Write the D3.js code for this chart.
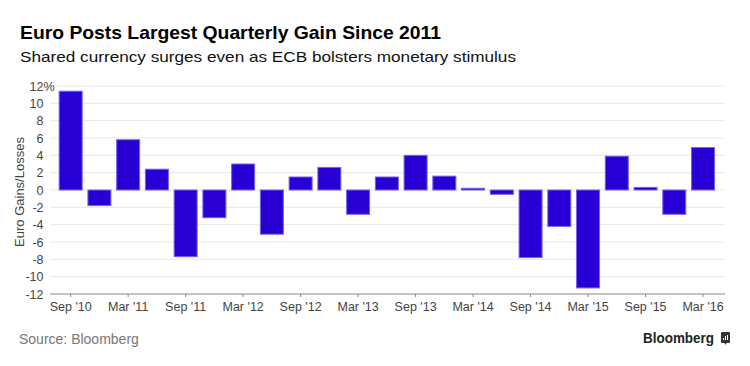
<!DOCTYPE html>
<html>
<head>
<meta charset="utf-8">
<script src="https://cdn.jsdelivr.net/npm/d3@7/dist/d3.min.js"></script>
<style>
  html, body { margin: 0; padding: 0; background: #fff; }
  svg { display: block; }
</style>
</head>
<body>
<svg id="chart" width="750" height="366"></svg>
<script>
const quarters = ["Sep '10","Dec '10","Mar '11","Jun '11","Sep '11","Dec '11","Mar '12","Jun '12",
  "Sep '12","Dec '12","Mar '13","Jun '13","Sep '13","Dec '13","Mar '14","Jun '14",
  "Sep '14","Dec '14","Mar '15","Jun '15","Sep '15","Dec '15","Mar '16"];
const gains = [11.4, -1.8, 5.8, 2.4, -7.7, -3.2, 3.0, -5.1, 1.5, 2.6, -2.8, 1.5,
  4.0, 1.6, 0.2, -0.5, -7.8, -4.2, -11.3, 3.9, 0.3, -2.8, 4.9];
const yTicks = [-12,-10,-8,-6,-4,-2,0,2,4,6,8,10,12];
const xTickLabels = ["Sep '10","Mar '11","Sep '11","Mar '12","Sep '12","Mar '13","Sep '13",
  "Mar '14","Sep '14","Mar '15","Sep '15","Mar '16"];
const title = "Euro Posts Largest Quarterly Gain Since 2011";
const subtitle = "Shared currency surges even as ECB bolsters monetary stimulus";
const source = "Source: Bloomberg";

const svg = d3.select("#chart");
const FONT = "'Liberation Sans', Arial, Helvetica, sans-serif";

const x = d3.scaleBand().domain(quarters).range([56.3, 717.4]).paddingInner(0.2).paddingOuter(0.1);
const y = d3.scaleLinear().domain([-12, 12]).range([294, 86]);

// Title / subtitle
svg.append("text").attr("x", 20).attr("y", 39)
  .attr("font-family", FONT).attr("font-weight", "bold").attr("font-size", 18.5)
  .attr("fill", "#000").attr("textLength", 421).attr("lengthAdjust", "spacingAndGlyphs")
  .text(title);
svg.append("text").attr("x", 20).attr("y", 61.5)
  .attr("font-family", FONT).attr("font-size", 14.5)
  .attr("fill", "#111").attr("textLength", 496).attr("lengthAdjust", "spacingAndGlyphs")
  .text(subtitle);

// gridlines
svg.append("g").selectAll("line").data(yTicks.filter(d => d > -12)).join("line")
  .attr("x1", 50).attr("x2", 725)
  .attr("y1", d => y(d)).attr("y2", d => y(d))
  .attr("stroke", "#e8e8e8").attr("stroke-width", 1);

// y labels
const yl = svg.append("g").attr("font-family", FONT).attr("font-size", 12.5).attr("fill", "#444");
yl.selectAll("text").data(yTicks).join("text")
  .attr("x", 43.5).attr("y", d => y(d)).attr("dy", "0.36em")
  .attr("text-anchor", "end").text(d => d);
yl.append("text").attr("x", 43.5).attr("y", y(12)).attr("dy", "0.36em").text("%");

// y title
svg.append("text")
  .attr("transform", `translate(${24},${192}) rotate(-90)`)
  .attr("text-anchor", "middle")
  .attr("font-family", FONT).attr("font-size", 13).attr("fill", "#444")
  .text("Euro Gains/Losses");

// bars
svg.append("g").selectAll("rect").data(quarters).join("rect")
  .attr("x", d => x(d))
  .attr("width", x.bandwidth())
  .attr("y", (d, i) => y(Math.max(0, gains[i])))
  .attr("height", (d, i) => Math.abs(y(gains[i]) - y(0)))
  .attr("fill", "#2800d6")
  .attr("stroke", "#7563e6").attr("stroke-width", 1);

// x axis
const xAxis = d3.axisBottom(x).tickValues(xTickLabels).tickSize(3).tickPadding(5);
const gx = svg.append("g").attr("transform", `translate(0,${y(-12)})`).call(xAxis);
gx.select(".domain").remove();
gx.selectAll(".tick line").attr("stroke", "#888");
gx.selectAll(".tick text").attr("font-family", FONT).attr("font-size", 12.5).attr("fill", "#444");
svg.append("line").attr("x1", 50).attr("x2", 725).attr("y1", y(-12)).attr("y2", y(-12))
  .attr("stroke", "#888").attr("stroke-width", 1);

// source
svg.append("text").attr("x", 19).attr("y", 344)
  .attr("font-family", FONT).attr("font-size", 14).attr("fill", "#777")
  .text(source);

// Bloomberg logo
svg.append("text").attr("x", 714).attr("y", 343).attr("text-anchor", "end")
  .attr("font-family", FONT).attr("font-weight", "bold").attr("font-size", 14.5)
  .attr("fill", "#222").attr("textLength", 71).attr("lengthAdjust", "spacingAndGlyphs")
  .text("Bloomberg");
const logo = svg.append("g").attr("transform", "translate(721,332)");
logo.append("rect").attr("width", 9).attr("height", 11).attr("rx", 1).attr("fill", "#333");
logo.append("path").attr("d", "M3.5,11 L4.5,13 L5.5,11 Z").attr("fill", "#333");
[[2,6],[4,4],[6,3]].forEach(([bx, by]) => {
  logo.append("rect").attr("x", bx).attr("y", by).attr("width", 1).attr("height", 8 - by)
    .attr("fill", "#fff");
});
</script>
</body>
</html>
